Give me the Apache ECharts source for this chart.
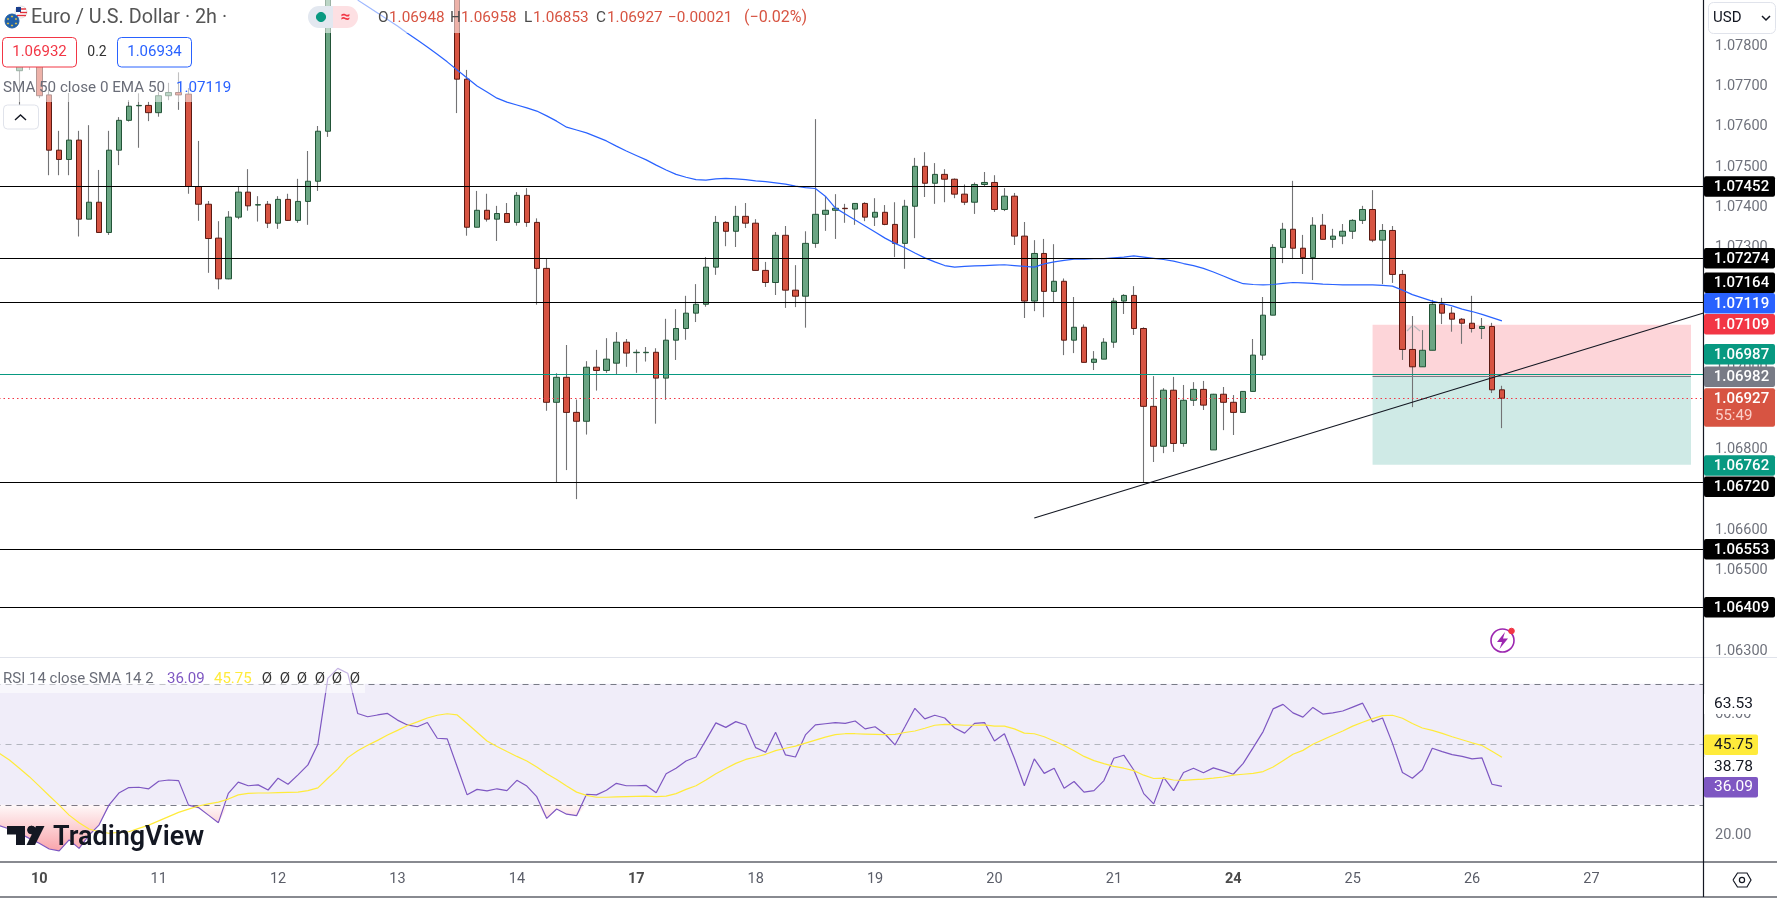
<!DOCTYPE html>
<html><head><meta charset="utf-8">
<style>html,body{margin:0;padding:0;background:#fff;overflow:hidden}#c{width:1777px;height:898px}</style>
<script src="https://cdn.jsdelivr.net/npm/echarts@6/dist/echarts.min.js"></script>
</head><body><div id="c"></div>
<script>
const dayNames=['10','11','12','13','14','17','18','19','20','21','24','25','26','27'];
const boldDays=['10','17','24'];
const priceTicks=[1.063,1.064,1.065,1.066,1.067,1.068,1.069,1.070,1.071,1.072,1.073,1.074,1.075,1.076,1.077,1.078];
const rsiTicks=[20,40,60];
const opens=[null,null,1.07739,1.07790,1.07766,1.07679,1.07542,1.07519,1.07567,1.07371,
1.07413,1.07338,1.07542,1.07616,1.07652,1.07653,1.07635,1.07677,1.07685,1.07681,
1.07452,1.07408,1.07324,1.07223,1.07376,1.07438,1.07406,1.07408,1.07361,1.07420,
1.07368,1.07415,1.07465,1.07589,null,null,null,null,null,null,
null,null,null,null,null,null,1.07960,1.07718,1.07351,1.07393,
1.07371,1.07385,1.07363,1.07430,1.07363,1.07249,1.06917,1.06979,1.06892,1.06870,
1.07004,1.06996,1.07014,1.07066,1.07040,1.07040,1.07041,1.06977,1.07071,1.07100,
1.07138,1.07160,1.07252,1.07363,1.07341,1.07378,1.07361,1.07244,1.07214,1.07331,
1.07195,1.07180,1.07311,1.07383,1.07393,1.07398,1.07396,1.07410,1.07376,1.07388,
1.07358,1.07311,1.07403,1.07502,1.07460,1.07482,1.07470,1.07433,1.07413,1.07457,
1.07462,1.07395,1.07428,1.07329,1.07168,1.07286,1.07192,1.07217,1.07071,1.07103,
1.07016,1.07024,1.07066,1.07168,1.07182,1.07100,1.06907,1.06808,1.06947,1.06815,
1.06922,1.06949,1.06799,1.06937,1.06917,1.06892,1.06944,1.07034,1.07133,1.07301,
1.07346,1.07299,1.07276,1.07356,1.07321,1.07329,1.07341,1.07368,1.07395,1.07319,
1.07343,1.07234,1.07048,1.07005,1.07046,1.07160,1.07138,1.07123,1.07113,1.07100,
1.07105,1.06948];
const closes=[null,null,1.07756,1.07766,1.07677,1.07542,1.07519,1.07567,1.07371,1.07413,
1.07338,1.07542,1.07616,1.07651,1.07653,1.07635,1.07677,1.07685,1.07679,1.07452,
1.07408,1.07323,1.07223,1.07376,1.07438,1.07404,1.07407,1.07361,1.07420,1.07368,
1.07415,1.07465,1.07589,1.07950,null,null,null,null,null,null,
null,null,null,null,null,null,1.07718,1.07351,1.07393,1.07371,
1.07385,1.07363,1.07430,1.07363,1.07249,1.06917,1.06979,1.06892,1.06870,1.07004,
1.06996,1.07024,1.07066,1.07039,1.07041,1.07041,1.06977,1.07071,1.07100,1.07138,
1.07160,1.07252,1.07363,1.07341,1.07378,1.07361,1.07244,1.07214,1.07331,1.07195,
1.07180,1.07311,1.07383,1.07393,1.07398,1.07397,1.07410,1.07376,1.07388,1.07358,
1.07311,1.07403,1.07502,1.07460,1.07482,1.07470,1.07433,1.07413,1.07457,1.07462,
1.07395,1.07428,1.07329,1.07168,1.07286,1.07192,1.07217,1.07071,1.07103,1.07016,
1.07024,1.07066,1.07168,1.07182,1.07100,1.06907,1.06808,1.06947,1.06815,1.06922,
1.06949,1.06910,1.06937,1.06917,1.06892,1.06944,1.07034,1.07133,1.07301,1.07346,
1.07299,1.07276,1.07356,1.07321,1.07329,1.07341,1.07368,1.07395,1.07319,1.07343,
1.07234,1.07048,1.07005,1.07046,1.07160,1.07138,1.07123,1.07113,1.07100,1.07105,
1.06948,1.06927];
const highs=[null,null,1.07778,1.07803,1.07803,1.07691,1.07590,1.07684,1.07590,1.07604,
1.07493,1.07590,1.07624,1.07666,1.07683,1.07662,1.07686,1.07709,1.07735,1.07696,
1.07565,1.07416,1.07366,1.07391,1.07453,1.07495,1.07428,1.07416,1.07428,1.07434,
1.07471,1.07540,1.07602,1.07970,null,null,null,null,null,null,
null,null,null,null,null,null,1.07980,1.07741,1.07441,1.07434,
1.07404,1.07411,1.07438,1.07448,1.07373,1.07274,1.06989,1.07059,1.06924,1.07019,
1.07047,1.07076,1.07091,1.07074,1.07048,1.07054,1.07051,1.07124,1.07148,1.07181,
1.07210,1.07277,1.07379,1.07366,1.07404,1.07411,1.07371,1.07265,1.07339,1.07354,
1.07257,1.07341,1.07619,1.07428,1.07433,1.07409,1.07411,1.07413,1.07423,1.07406,
1.07413,1.07419,1.07523,1.07537,1.07510,1.07495,1.07472,1.07457,1.07462,1.07488,
1.07480,1.07448,1.07436,1.07364,1.07319,1.07322,1.07309,1.07224,1.07178,1.07110,
1.07044,1.07076,1.07176,1.07185,1.07205,1.07103,1.06982,1.06952,1.06980,1.06960,
1.06967,1.06970,1.06938,1.06955,1.06935,1.06944,1.07074,1.07178,1.07309,1.07362,
1.07466,1.07332,1.07376,1.07384,1.07347,1.07359,1.07371,1.07404,1.07443,1.07359,
1.07354,1.07245,1.07131,1.07096,1.07171,1.07176,1.07153,1.07126,1.07181,1.07126,
1.07114,1.06958];
const lows=[null,null,1.07654,1.07741,1.07671,1.07480,1.07480,1.07480,1.07328,1.07371,
1.07338,1.07332,1.07505,1.07613,1.07548,1.07614,1.07625,1.07666,1.07642,1.07434,
1.07367,1.07238,1.07197,1.07222,1.07371,1.07392,1.07365,1.07349,1.07347,1.07367,
1.07362,1.07357,1.07441,1.07575,null,null,null,null,null,null,
null,null,null,null,null,null,1.07634,1.07330,1.07351,1.07365,
1.07317,1.07363,1.07355,1.07352,1.07159,1.06896,1.06719,1.06749,1.06677,1.06837,
1.06946,1.06990,1.06986,1.07005,1.06990,1.07018,1.06864,1.06923,1.07022,1.07072,
1.07116,1.07154,1.07233,1.07304,1.07302,1.07349,1.07244,1.07203,1.07183,1.07151,
1.07153,1.07102,1.07300,1.07342,1.07322,1.07362,1.07357,1.07366,1.07354,1.07356,
1.07277,1.07248,1.07324,1.07426,1.07409,1.07413,1.07423,1.07406,1.07384,1.07452,
1.07389,1.07391,1.07307,1.07126,1.07143,1.07128,1.07165,1.07034,1.07039,1.07016,
1.06997,1.07024,1.07052,1.07136,1.07084,1.06719,1.06769,1.06791,1.06794,1.06807,
1.06908,1.06898,1.06799,1.06848,1.06836,1.06892,1.06944,1.07022,1.07133,1.07262,
1.07272,1.07235,1.07220,1.07321,1.07300,1.07309,1.07322,1.07359,1.07314,1.07210,
1.07213,1.07022,1.06905,1.07005,1.07046,1.07111,1.07092,1.07062,1.07090,1.07074,
1.06940,1.06853];
const ema50Hidden=Array(36).fill(null);
const ema50Visible=[1.07914,1.07898,1.07882,1.07866,
1.07850,1.07832,1.07815,1.07798,1.07780,1.07761,1.07741,1.07721,1.07701,1.07686,
1.07671,1.07661,1.07654,1.07647,1.07639,1.07627,1.07614,1.07599,1.07592,1.07585,
1.07575,1.07565,1.07552,1.07540,1.07529,1.07518,1.07505,1.07493,1.07482,1.07475,
1.07469,1.07468,1.07471,1.07472,1.07471,1.07469,1.07466,1.07464,1.07461,1.07458,
1.07453,1.07449,1.07447,1.07428,1.07399,1.07384,1.07369,1.07354,1.07339,1.07324,
1.07311,1.07300,1.07287,1.07275,1.07265,1.07256,1.07252,1.07254,1.07255,1.07256,
1.07257,1.07258,1.07256,1.07254,1.07252,1.07260,1.07265,1.07269,1.07272,1.07272,
1.07273,1.07273,1.07275,1.07277,1.07280,1.07277,1.07274,1.07271,1.07267,1.07261,
1.07256,1.07249,1.07240,1.07230,1.07220,1.07211,1.07209,1.07208,1.07209,1.07212,
1.07214,1.07213,1.07212,1.07210,1.07209,1.07208,1.07208,1.07208,1.07208,1.07207,
1.07205,1.07195,1.07184,1.07176,1.07168,1.07162,1.07156,1.07148,1.07142,1.07135,
1.07127,1.07119];
const rsiValues=[23.1,22.0,20.6,18.9,17.3,15.4,14.8,18.4,15.6,20.0,
23.3,29.9,33.9,35.7,35.8,35.3,37.8,38.2,38.0,29.9,
29.1,26.6,24.1,33.8,37.5,36.3,36.6,34.9,38.8,36.8,
39.9,43.2,50.0,71.8,75.1,73.5,60.2,59.1,59.7,60.2,
58.0,56.4,55.8,57.2,52.0,51.8,42.6,33.3,35.1,34.6,
35.3,34.7,38.1,36.2,32.7,25.5,28.6,26.9,26.4,33.5,
33.3,34.8,37.1,36.3,36.3,36.4,34.0,40.3,42.1,44.5,
45.8,51.4,57.1,55.6,57.5,56.4,48.9,47.4,54.0,46.5,
45.8,53.1,56.4,56.8,57.2,56.9,57.7,55.1,55.8,53.4,
49.8,55.8,61.9,58.4,59.6,58.7,55.4,53.7,56.9,57.2,
51.1,53.5,45.4,36.3,45.2,40.4,42.1,35.5,37.7,34.2,
34.7,38.0,45.4,46.4,41.5,33.7,30.3,39.1,34.7,40.7,
42.1,40.6,42.2,41.2,40.1,43.7,48.9,54.2,61.7,63.2,
60.4,59.0,62.2,60.0,60.4,61.0,62.3,63.6,57.4,58.7,
50.3,40.7,38.8,41.6,48.7,47.6,46.6,46.0,45.2,45.5,
36.8,36.09];
const rsiSmaValues=[47.0,44.8,42.1,39.3,36.2,33.0,29.9,26.6,24.1,22.0,
21.1,20.6,20.9,21.1,22.2,23.3,24.7,26.1,27.5,28.6,
29.6,30.3,30.9,31.9,33.3,33.8,33.9,33.9,34.0,34.1,
34.2,34.7,35.6,38.8,41.8,45.6,47.9,49.7,51.3,53.1,
54.6,56.2,57.4,58.7,59.6,60.1,59.7,56.9,54.0,51.1,
49.3,47.6,46.0,44.5,42.5,40.3,38.4,36.2,34.2,33.1,
32.5,32.5,32.6,32.7,32.8,32.9,32.7,32.9,33.7,35.1,
36.3,38.2,40.3,42.0,43.7,45.0,45.8,46.7,47.9,48.7,
49.4,50.4,51.4,52.4,53.2,53.5,53.5,53.4,53.3,53.2,
53.3,53.9,54.4,55.3,56.3,56.6,56.5,56.3,56.3,56.4,
56.0,56.0,55.1,53.7,53.5,52.5,51.1,49.6,47.9,46.0,
44.6,43.6,42.7,42.1,41.3,39.8,38.7,38.8,38.2,38.1,
38.3,38.5,38.8,39.2,39.8,40.1,40.4,41.0,42.5,44.6,
46.7,48.0,50.0,51.5,53.0,54.4,56.0,57.3,58.5,59.5,
59.6,58.6,56.9,55.4,54.6,53.6,52.5,51.5,50.5,49.6,
47.7,45.75];
const levelValues=[1.07452,1.07274,1.07164,1.06720,1.06553,1.06409];
const bidLevel=1.06987, entryLevel=1.06982, stopLevel=1.07109, targetLevel=1.06762, lastClose=1.06927;
const trendFrom=[104,1.06630], trendTo=[172,1.07144];
const positionBars=[138,170];

// ----- layout -----
const BAR=9.95, LEAD=4, N=173, LEFT=-5.5, AXIS_X=1703.5;
const categories=[]; for(let i=0;i<LEAD;i++)categories.push('');
dayNames.forEach(d=>{categories.push(d);for(let i=0;i<11;i++)categories.push('');});
while(categories.length<N)categories.push('');
const gridRight=LEFT+N*BAR, axisOffset=-(gridRight-AXIS_X);
const FONT='Roboto, sans-serif';

const wickData=opens.map((o,i)=>o==null?['-','-','-','-']:[o,closes[i],lows[i],highs[i]]);
const bodyData=opens.map((o,i)=>o==null?['-','-','-','-']:[o,closes[i],Math.min(o,closes[i]),Math.max(o,closes[i])]);
const emaData=ema50Hidden.concat(ema50Visible);
const oversold=rsiValues.map(v=>Math.min(v,30));

// ----- graphic helpers -----
const G=[];
const rect=(x,y,w,h,fill,z,r,stroke)=>G.push({type:'rect',shape:{x,y,width:w,height:h,r:r||0},style:{fill,stroke:stroke||null,lineWidth:stroke?1:0},z,silent:true});
const text=(x,y,s,fill,size,align,weight,z)=>G.push({type:'text',x,y,style:{text:s,fill,font:(weight||'normal')+' '+size+'px '+FONT,align:align||'left',verticalAlign:'middle',textAlign:align||'left',textVerticalAlign:'middle'},z:z||12,silent:true});
const line=(x1,y1,x2,y2,stroke,z,w)=>G.push({type:'line',shape:{x1,y1,x2,y2},style:{stroke,lineWidth:w||1},z,silent:true});
const poly=(points,fill,z)=>G.push({type:'polygon',shape:{points},style:{fill},z,silent:true});
const circle=(cx,cy,r,fill,stroke,z,w)=>G.push({type:'circle',shape:{cx,cy,r},style:{fill,stroke,lineWidth:w||1},z,silent:true});
const polyline=(points,stroke,z,w)=>G.push({type:'polyline',shape:{points},style:{stroke,fill:'none',lineWidth:w||1},z,silent:true});

// right scale panel
rect(AXIS_X+0.5,0,1777-AXIS_X,898,'#ffffff',6);
line(0,657.5,1777,657.5,'#e0e3eb',6,1.2);
line(AXIS_X,0,AXIS_X,897,'#131722',9,1.2);
line(0,862,1777,862,'#131722',9,1.2);
line(0,897,1777,897,'#131722',9,1.2);

// price tags
const TAG_R=1775, tagH=20.6, TAG_C=1741.5;
const tag=(cy,s,bg,fg)=>{rect(AXIS_X+0.5,cy-tagH/2,TAG_R-AXIS_X-0.5,tagH,bg,10,2);text(TAG_C,cy+0.5,s,fg,15,'center','500',12);};
tag(186.5,'1.07452','#000000','#ffffff');
tag(258.3,'1.07274','#000000','#ffffff');
tag(282.7,'1.07164','#000000','#ffffff');
tag(303.3,'1.07119','#2962ff','#ffffff');
tag(324.3,'1.07109','#f23645','#ffffff');
tag(354.3,'1.06987','#089981','#ffffff');
tag(376.7,'1.06982','#787b86','#ffffff');
rect(AXIS_X+0.5,388.3,TAG_R-AXIS_X-0.5,38.4,'#d75442',10,2);
text(TAG_C,399,'1.06927','#ffffff',15,'center','500');
text(1715,416.7,'55:49','#fbd0c9',15,'left');
tag(465.5,'1.06762','#089981','#ffffff');
tag(486.7,'1.06720','#000000','#ffffff');
tag(549.3,'1.06553','#000000','#ffffff');
tag(607.3,'1.06409','#000000','#ffffff');
// RSI scale tags
rect(AXIS_X+0.5,694,54,20,'#ffffff',10);
text(1733.5,704,'63.53','#131722',15.5,'center');
rect(AXIS_X+0.5,734.5,54,20.5,'#ffeb3b',10,2);
text(1733.5,745,'45.75','#131722',15.5,'center');
rect(AXIS_X+0.5,757,54,20,'#ffffff',10);
text(1733.5,767,'38.78','#131722',15.5,'center');
rect(AXIS_X+0.5,777,54,20.5,'#7e57c2',10,2);
text(1733.5,787.5,'36.09','#ffffff',15.5,'center');

// currency box
rect(1708.5,2.5,67,31,'#ffffff',10,5,'#e0e3eb');
text(1713,18,'USD','#131722',15,'left');
polyline([[1762,16],[1766,20],[1770,16]],'#131722',12,1.5);
// settings icon
polyline([[1733,880],[1737.5,873],[1747,873],[1751,880],[1747,887],[1737.5,887],[1733,880]],'#131722',12,1.2);
circle(1742,880,2.6,'none','#131722',12,1.2);

// legend veils
rect(0,0,820,33,'rgba(255,255,255,0.55)',6);
rect(0,36,236,66,'rgba(255,255,255,0.55)',6);
rect(0,667,365,26,'rgba(255,255,255,0.55)',6);

// title row
circle(12,21,7,'#1f5fa8','#1f5fa8',11);
[[12,16.5],[16,19],[16,23.5],[12,25.5],[8,23.5],[8,19]].forEach(p=>circle(p[0],p[1],0.8,'#ffd23c','#ffd23c',12,0.3));
circle(21,12,6,'#ffffff','#e0e0e0',10);
rect(16,7,5,5,'#1a3e8c',11);
line(21,9,26,9,'#e0303a',11,1.4);line(20,12.5,27,12.5,'#e0303a',11,1.4);line(17,15.5,26,15.5,'#e0303a',11,1.4);
text(31,18.5,'Euro / U.S. Dollar \u00b7 2h \u00b7','#555555',19.8,'left');
rect(308,6,25,22,'#e3e8f0',11,[11,0,0,11]);
rect(333,6,25,22,'#fde0e3',11,[0,11,11,0]);
circle(321,17,4.6,'#089981','#089981',12);
text(345.5,17.5,'\u2248','#f23645',17,'center','bold');
const ohlcRed='#d75442', ohlcDark='#4a4a4a';
[['O',378],['H',450],['L',524],['C',596]].forEach((p,i)=>{
  text(p[1],18,p[0],ohlcDark,15.3,'left');
  text(p[1]+(p[0]==='L'?9:11),18,['1.06948','1.06958','1.06853','1.06927'][i],ohlcRed,15.3,'left');
});
text(668,18,'\u22120.00021','#d75442',15.3,'left');
text(744,18,'(\u22120.02%)','#d75442',16,'left');
// buy/sell boxes
rect(2.5,37.5,74,29.5,'#ffffff',11,4,'#f23645');
text(39.5,52.5,'1.06932','#f23645',15,'center');
text(97,52.5,'0.2','#333333',14,'center');
rect(117.5,37.5,74,29.5,'#ffffff',11,4,'#2962ff');
text(154.5,52.5,'1.06934','#2962ff',15,'center');
text(3,88,'SMA 50 close 0 EMA 50','#6a6d78',15.2,'left');
text(176,88,'1.07119','#2962ff',15.2,'left');
rect(3.5,105,35,24,'#ffffff',11,4,'#e0e3eb');
polyline([[15,120],[20.5,115],[26,120]],'#131722',12,1.4);

// RSI legend
text(3,679,'RSI 14 close SMA 14 2','#6a6d78',15,'left');
text(167,679,'36.09','#7e57c2',15,'left');
text(214,679,'45.75','#ffeb3b',15,'left');
[267,285,302,320,337,355].forEach(x=>text(x,679,'\u00d8','#333333',15,'center'));

// faint collapse caret on chart
polyline([[1407,331],[1412,326]],'#b8b8bc',4,1.2);polyline([[1414,326],[1420,331]],'#b8b8bc',4,1.2);

// alert icon
circle(1502.5,640.5,11.5,'#ffffff','#9c27b0',12,1.6);
poly([[1505,632],[1497,642],[1502,642],[1499.5,649],[1508,638.5],[1503,638.5]],'#9c27b0',12);
circle(1511.5,631,2.8,'#f23645','#f23645',13);

// TradingView logo
rect(7,826,18,8.5,'#131722',12);
rect(16,834,9,11,'#131722',12);
circle(31.5,830,3.9,'#131722','#131722',12);
poly([[35,845],[26.5,845],[36,826],[44.5,826]],'#131722',12);
text(53,838,'TradingView','#131722',27,'left','600',12);

const option={
  animation:false,
  backgroundColor:'#ffffff',
  grid:[
    {left:LEFT,top:0,width:N*BAR,height:657.5,containLabel:false,outerBoundsMode:'none'},
    {left:LEFT,top:658,width:N*BAR,height:204,containLabel:false,outerBoundsMode:'none'}
  ],
  xAxis:[
    {type:'category',gridIndex:0,data:categories,boundaryGap:true,show:false},
    {type:'category',gridIndex:1,data:categories,boundaryGap:true,
      axisLine:{show:false},axisTick:{show:false},splitLine:{show:false},
      axisLabel:{interval:(i,v)=>v!=='',margin:10,hideOverlap:false,color:'#5a5d68',fontFamily:FONT,fontSize:14.5,
        formatter:v=>boldDays.includes(v)?'{b|'+v+'}':v,
        rich:{b:{fontWeight:'bold',color:'#4a4a4a',fontFamily:FONT,fontSize:14.5}}}}
  ],
  yAxis:[
    {type:'value',gridIndex:0,position:'right',offset:axisOffset,min:1.062844,max:1.079143,z:7,scale:true,
      axisLine:{show:false},axisTick:{show:false},splitLine:{show:false},
      axisLabel:{customValues:priceTicks,margin:11.5,color:'#6f727c',fontFamily:FONT,fontSize:14.5,formatter:v=>v.toFixed(5)}},
    {type:'value',gridIndex:1,position:'right',offset:axisOffset,min:11.1,max:78.53,z:7,scale:true,
      axisLine:{show:false},axisTick:{show:false},splitLine:{show:false},
      axisLabel:{customValues:rsiTicks,margin:11.5,color:'#6f727c',fontFamily:FONT,fontSize:14.5,formatter:v=>v.toFixed(2)}}
  ],
  series:[
    {name:'Wicks',type:'candlestick',xAxisIndex:0,yAxisIndex:0,data:wickData,barWidth:1,z:2,
      itemStyle:{color:'#737375',color0:'#737375',borderColor:'#737375',borderColor0:'#737375',borderWidth:1.1},silent:true},
    {name:'EUR/USD',type:'candlestick',xAxisIndex:0,yAxisIndex:0,data:bodyData,barWidth:6,z:3,
      itemStyle:{color:'#6ba583',color0:'#d75442',borderColor:'#225437',borderColor0:'#5b1a13',borderWidth:1},silent:true},
    {name:'EMA 50',type:'line',xAxisIndex:0,yAxisIndex:0,data:emaData,showSymbol:false,z:4,
      lineStyle:{color:'#2962ff',width:1.2},silent:true,
      markArea:{silent:true,z:1,data:[
        [{coord:[positionBars[0],stopLevel],itemStyle:{color:'#fdd5d9'}},{coord:[positionBars[1],entryLevel]}],
        [{coord:[positionBars[0],entryLevel],itemStyle:{color:'#cfeae6'}},{coord:[positionBars[1],targetLevel]}]
      ]},
      markLine:{silent:true,z:5,symbol:'none',precision:5,label:{show:false},data:[
        ...levelValues.map(v=>({yAxis:v,lineStyle:{color:'#000000',width:1.1,type:'solid'}})),
        {yAxis:bidLevel,lineStyle:{color:'#089981',width:1.1,type:'solid'}},
        {yAxis:lastClose,lineStyle:{color:'#f23645',width:1,type:[1.5,3]}},
        [{coord:[positionBars[0],entryLevel],lineStyle:{color:'#787b86',width:1.1,type:'solid'}},{coord:[positionBars[1],entryLevel]}],
        [{coord:trendFrom,lineStyle:{color:'#131722',width:1.1,type:'solid'}},{coord:trendTo}]
      ]}},
    {name:'Oversold',type:'line',xAxisIndex:1,yAxisIndex:1,data:oversold,showSymbol:false,z:2,silent:true,
      lineStyle:{width:0},
      areaStyle:{origin:30,opacity:1,color:new echarts.graphic.LinearGradient(0,0,0,1,[{offset:0,color:'rgba(242,54,69,0.03)'},{offset:1,color:'rgba(242,54,69,0.45)'}])}},
    {name:'RSI',type:'line',xAxisIndex:1,yAxisIndex:1,data:rsiValues,showSymbol:false,z:4,silent:true,
      lineStyle:{color:'#7e57c2',width:1.2},
      markArea:{silent:true,z:1,itemStyle:{color:'#f0edf9'},data:[[{yAxis:70},{yAxis:30}]]},
      markLine:{silent:true,z:1.5,symbol:'none',precision:2,label:{show:false},data:[
        {yAxis:70,lineStyle:{color:'#787b86',width:1.1,type:[6,5]}},
        {yAxis:50,lineStyle:{color:'#b2b5be',width:1.1,type:[6,5]}},
        {yAxis:30,lineStyle:{color:'#787b86',width:1.1,type:[6,5]}}
      ]}},
    {name:'RSI SMA',type:'line',xAxisIndex:1,yAxisIndex:1,data:rsiSmaValues,showSymbol:false,z:4,silent:true,
      lineStyle:{color:'#ffeb3b',width:1.2}}
  ],
  graphic:{elements:G}
};
const chart=echarts.init(document.getElementById('c'),null,{renderer:'canvas'});
chart.setOption(option);
</script></body></html>
